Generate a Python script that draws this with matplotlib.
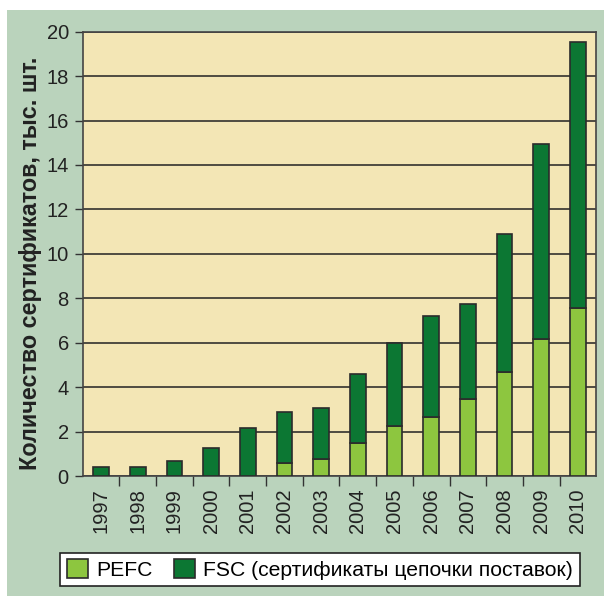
import matplotlib
matplotlib.use("Agg")
import matplotlib.pyplot as plt
from matplotlib.patches import Rectangle
import numpy as np

YEARS = [str(y) for y in range(1997, 2011)]
# totals and PEFC part, thousands of certificates
TOTAL = [0.4, 0.4, 0.68, 1.25, 2.15, 2.9, 3.05, 4.6, 6.0, 7.2, 7.75, 10.9, 14.95, 19.55]
PEFC = [0.0, 0.0, 0.0, 0.0, 0.0, 0.6, 0.75, 1.5, 2.25, 2.65, 3.45, 4.7, 6.15, 7.55]
FSC = [t - p for t, p in zip(TOTAL, PEFC)]

BG_GREEN = "#bad3bc"
PLOT_BG = "#f3e6b5"
LIGHT = "#8dc63f"
DARK = "#0c7733"
EDGE = "#2b2b2b"

plt.rcParams["font.family"] = ["Liberation Sans", "DejaVu Sans"]

fig = plt.figure(figsize=(6.04, 5.96), dpi=100)
fig.patches.append(Rectangle((7 / 604, 0), 1 - 7 / 604, 1 - 10 / 596,
                             transform=fig.transFigure, facecolor=BG_GREEN,
                             edgecolor="none", zorder=-10))

ax = fig.add_axes([82.7 / 604, 1 - 476 / 596, (596.3 - 82.7) / 604, (476 - 31.7) / 596])
ax.set_facecolor(PLOT_BG)

x = np.arange(len(YEARS))
w = 0.43
ax.bar(x, PEFC, w, color=LIGHT, edgecolor=EDGE, linewidth=1.2, zorder=3, label="PEFC")
ax.bar(x, FSC, w, bottom=PEFC, color=DARK, edgecolor=EDGE, linewidth=1.2, zorder=3,
       label="FSC (сертификаты цепочки поставок)")

ax.set_xlim(-0.5, len(YEARS) - 0.5)
ax.set_ylim(0, 20)
ax.set_yticks(range(0, 21, 2))
ax.yaxis.grid(True, color="#222222", linewidth=1.1, zorder=1)
ax.set_axisbelow(True)

ax.set_xticks(x)
ax.set_xticklabels(YEARS, rotation=90)
ax.set_xticks(np.arange(0.5, len(YEARS) - 0.5, 1), minor=True)
ax.tick_params(axis="x", which="major", length=0, pad=9, labelsize=14.5, colors="#222222")
ax.tick_params(axis="x", which="minor", length=7, width=1, color="#333333")
ax.tick_params(axis="y", length=6, width=1, color="#333333", labelsize=14.5,
               labelcolor="#222222", pad=4)
for s in ax.spines.values():
    s.set_color("#444444")
    s.set_linewidth(1.2)

fig.text(31 / 604, 1 - 263 / 596, "Количество сертификатов, тыс. шт.", rotation=90,
         ha="center", va="center", fontsize=16.8, fontweight="bold", color="#222222")

leg = fig.legend(loc="center", bbox_to_anchor=(320 / 604, 1 - 569.5 / 596), ncol=2,
                 fontsize=15.2, frameon=True, fancybox=False, edgecolor="#222222",
                 framealpha=1, handlelength=1.0, handleheight=1.0, handletextpad=0.4,
                 columnspacing=1.0, borderpad=0.3)
leg.get_frame().set_linewidth(1.2)

fig.savefig("out.png", dpi=100)
